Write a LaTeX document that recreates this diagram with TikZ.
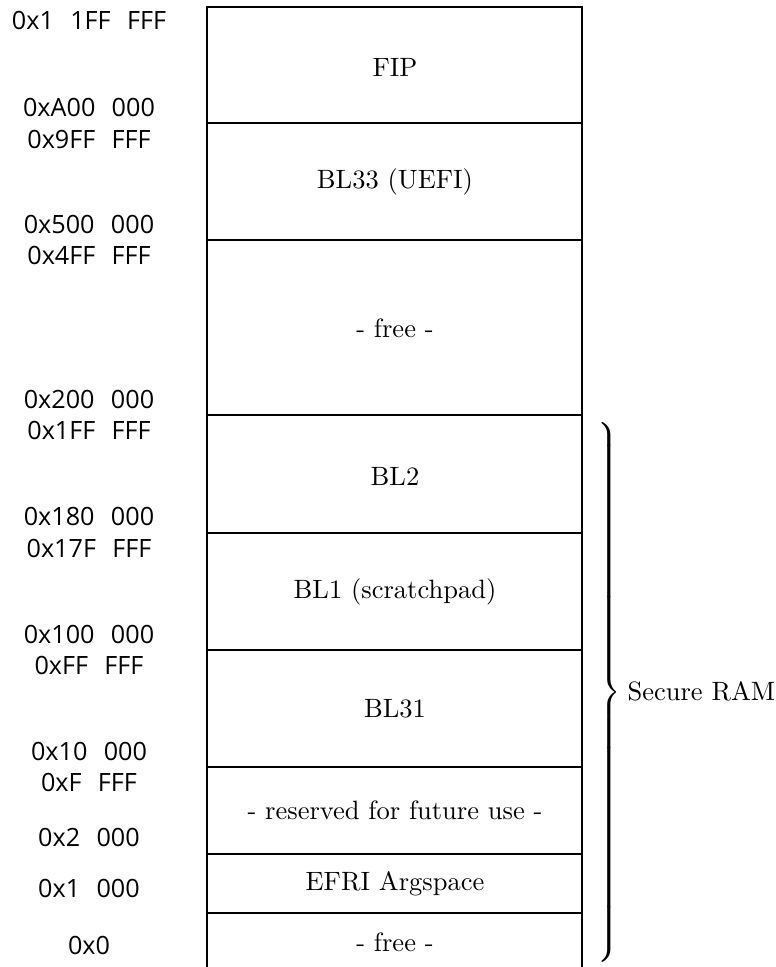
\documentclass[tikz,border=0pt]{standalone}
\usepackage{fontspec}
\newfontfamily\addrfont{Open Sans}
\newcommand{\gp}{\hspace{0.65em}}
\begin{document}
\begin{tikzpicture}[x=0.3774pt,y=-0.3774pt,
  addr/.style={font=\addrfont\fontsize{9.5pt}{11pt}\selectfont, inner sep=0pt},
  lbl/.style={inner sep=0pt},
  frame/.style={line width=0.5pt}]
\useasboundingbox (0,0) rectangle (776,967);
% memory column
\draw[frame] (207,967) -- (207,7) -- (582,7) -- (582,967);
\foreach \y in {123,240,415,533,650,767,854,913}
  \draw[frame] (207,\y) -- (582,\y);
% region labels
\node[lbl] (fip)  at (395,67)  {FIP};
\node[lbl] (bl33) at (395,182) {BL33 (UEFI)};
\node[lbl] (free1) at (395,328) {- free -};
\node[lbl] (bl2)  at (395,476) {BL2};
\node[lbl] (bl1)  at (395,592) {BL1 (scratchpad)};
\node[lbl] (bl31) at (395,709) {BL31};
\node[lbl] (resv) at (395,810) {- reserved for future use -};
\node[lbl] (efri) at (395,884) {EFRI Argspace};
\node[lbl] (free2) at (395,942) {- free -};
% addresses
\node[addr] (a1) at (89,20)  {0x1\gp 1FF\gp FFF};
\node[addr] (a2) at (89,107) {0xA00\gp 000};
\node[addr] (a3) at (89,139) {0x9FF\gp FFF};
\node[addr] (a4) at (89,224) {0x500\gp 000};
\node[addr] (a5) at (89,255) {0x4FF\gp FFF};
\node[addr] (a6) at (89,399) {0x200\gp 000};
\node[addr] (a7) at (89,430) {0x1FF\gp FFF};
\node[addr] (a8) at (89,516) {0x180\gp 000};
\node[addr] (a9) at (89,548) {0x17F\gp FFF};
\node[addr] (a10) at (89,634) {0x100\gp 000};
\node[addr] (a11) at (89,665) {0xFF\gp FFF};
\node[addr] (a12) at (89,751) {0x10\gp 000};
\node[addr] (a13) at (89,782) {0xF\gp FFF};
\node[addr] (a14) at (89,837) {0x2\gp 000};
\node[addr] (a15) at (89,888) {0x1\gp 000};
\node[addr] (a16) at (89,945) {0x0};
% secure RAM brace
\node[inner sep=0pt] (brace) at (608,693) {$\left.\vrule height 100pt depth 100pt width 0pt\right\}$};
\node[lbl, anchor=west] (sram) at (627,691) {Secure RAM};
\end{tikzpicture}
\end{document}
